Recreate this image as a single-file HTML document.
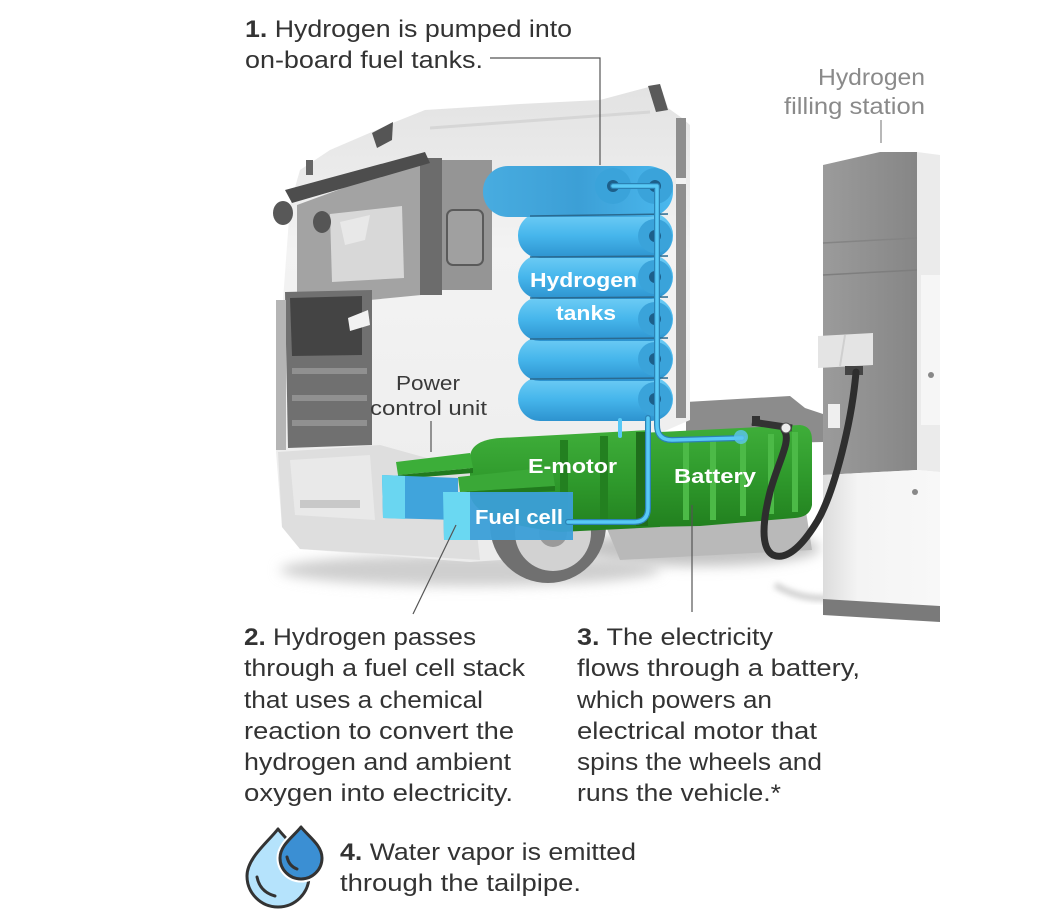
<!DOCTYPE html>
<html><head><meta charset="utf-8"><style>
html,body{margin:0;padding:0;background:#fff;}
svg{display:block;}
.t{font-family:"Liberation Sans",Arial,sans-serif;font-size:24px;fill:#333;}
.w{font-family:"Liberation Sans",Arial,sans-serif;font-size:20px;font-weight:bold;fill:#fff;}
.g{font-family:"Liberation Sans",Arial,sans-serif;font-size:23px;fill:#8a8a8a;}
.p{font-family:"Liberation Sans",Arial,sans-serif;font-size:20px;fill:#3a3a3a;}
</style></head><body>
<svg width="1040" height="920" viewBox="0 0 1040 920" xmlns="http://www.w3.org/2000/svg">
<defs>
<linearGradient id="cab" x1="0" y1="0" x2="0" y2="1">
<stop offset="0" stop-color="#e2e2e2"/><stop offset="0.35" stop-color="#f3f3f3"/><stop offset="1" stop-color="#ececec"/></linearGradient>
<linearGradient id="tank" x1="0" y1="0" x2="0" y2="1">
<stop offset="0" stop-color="#6fcdf5"/><stop offset="0.5" stop-color="#46b6ec"/><stop offset="1" stop-color="#2d93cf"/></linearGradient>
<linearGradient id="tank1" x1="0" y1="0" x2="1" y2="0">
<stop offset="0" stop-color="#48ace0"/><stop offset="0.5" stop-color="#3c9fd6"/><stop offset="1" stop-color="#4ab8ee"/></linearGradient>
<linearGradient id="grn" x1="0" y1="0" x2="0" y2="1">
<stop offset="0" stop-color="#3fae3a"/><stop offset="0.5" stop-color="#2f9a2c"/><stop offset="1" stop-color="#22801f"/></linearGradient>
<linearGradient id="st" x1="0" y1="0" x2="1" y2="0">
<stop offset="0" stop-color="#9b9b9b"/><stop offset="1" stop-color="#868686"/></linearGradient>
<linearGradient id="base" x1="0" y1="0" x2="1" y2="0">
<stop offset="0" stop-color="#dcdcdc"/><stop offset="0.3" stop-color="#f4f4f4"/><stop offset="1" stop-color="#f8f8f8"/></linearGradient>
<filter id="bl" x="-20%" y="-50%" width="140%" height="200%"><feGaussianBlur stdDeviation="6"/></filter>
<filter id="bl2" x="-20%" y="-50%" width="140%" height="200%"><feGaussianBlur stdDeviation="3"/></filter>
</defs>

<ellipse cx="470" cy="570" rx="190" ry="16" fill="#cfcfcf" filter="url(#bl)"/>
<ellipse cx="700" cy="548" rx="120" ry="18" fill="#c4c4c4" filter="url(#bl)"/>
<path d="M775 585 Q800 600 830 598" stroke="#cfcfcf" stroke-width="6" fill="none" filter="url(#bl2)"/>

<path d="M686 402 L790 396 L805 408 L823 414 L823 442 L686 445 Z" fill="#8c8c8c"/>
<path d="M600 512 L805 505 L812 550 L620 560 Z" fill="#b9b9b9"/>

<path d="M283 300 L290 205 L300 170 L330 150 L395 122 L425 110 L520 104 L600 100 L645 88 L660 84 L668 108 L682 118 L690 125 L690 420 L640 442 L610 470 L600 520 L500 560 L470 562 L300 549 L282 527 L276 452 Z" fill="url(#cab)"/>
<path d="M430 128 L650 112" stroke="#d6d6d6" stroke-width="3"/>
<path d="M648 86 L660 84 L668 110 L656 112 Z" fill="#5a5a5a"/>
<rect x="676" y="118" width="10" height="300" fill="#8e8e8e"/>
<rect x="676" y="178" width="10" height="6" fill="#f2f2f2"/>

<path d="M297 205 L420 160 L442 160 L442 293 L370 300 L297 292 Z" fill="#a3a3a3"/>
<path d="M330 214 L402 206 L404 278 L332 282 Z" fill="#d8d8d8"/>
<path d="M340 222 L370 215 L365 240 L345 245 Z" fill="#e8e8e8"/>
<rect x="420" y="158" width="22" height="137" fill="#6c6c6c"/>
<rect x="442" y="160" width="50" height="130" fill="#959595"/>
<rect x="447" y="210" width="36" height="55" rx="6" fill="#a0a0a0" stroke="#5a5a5a" stroke-width="2"/>
<path d="M285 190 L425 152 L430 163 L292 203 Z" fill="#4d4d4d"/>
<ellipse cx="283" cy="213" rx="10" ry="12" fill="#585858"/>
<ellipse cx="322" cy="222" rx="9" ry="11" fill="#555"/>
<path d="M372 133 L393 122 L392 140 L377 148 Z" fill="#555"/>
<rect x="306" y="160" width="7" height="15" fill="#666"/>

<path d="M285 292 L372 290 L372 445 L288 448 Z" fill="#707070"/>
<path d="M290 298 L362 296 L362 355 L292 356 Z" fill="#444"/>
<rect x="292" y="368" width="75" height="6" fill="#909090"/>
<rect x="292" y="395" width="75" height="6" fill="#909090"/>
<rect x="292" y="420" width="75" height="6" fill="#909090"/>
<path d="M348 318 L368 310 L370 325 L350 331 Z" fill="#f2f2f2"/>
<rect x="276" y="300" width="10" height="150" fill="#b5b5b5"/>

<path d="M278 452 L380 445 L470 470 L480 560 L300 549 L282 527 Z" fill="#dedede"/>
<path d="M290 460 L370 455 L375 520 L295 515 Z" fill="#e9e9e9"/>
<rect x="300" y="500" width="60" height="8" fill="#c8c8c8"/>

<circle cx="548" cy="525" r="58" fill="#707070"/>
<circle cx="553" cy="533" r="38" fill="#d2d2d2"/>
<circle cx="553" cy="533" r="14" fill="#9a9a9a"/>
<path d="M485 470 Q545 425 612 462" stroke="#9a9a9a" stroke-width="8" fill="none"/>

<rect x="518" y="377" width="155" height="44" rx="22" fill="url(#tank)"/>
<rect x="518" y="337" width="155" height="44" rx="22" fill="url(#tank)"/>
<rect x="518" y="297" width="155" height="44" rx="22" fill="url(#tank)"/>
<rect x="518" y="255" width="155" height="44" rx="22" fill="url(#tank)"/>
<rect x="518" y="213" width="155" height="45" rx="22" fill="url(#tank)"/>
<rect x="483" y="166" width="190" height="51" rx="25" fill="url(#tank1)"/>
<g stroke="#2a6a90" stroke-width="1.5">
<line x1="530" y1="216" x2="668" y2="214"/>
<line x1="530" y1="257" x2="668" y2="256"/>
<line x1="530" y1="298" x2="668" y2="297"/>
<line x1="530" y1="339" x2="668" y2="338"/>
<line x1="530" y1="379" x2="668" y2="378"/>
</g>
<g fill="#3aa3da">
<circle cx="613" cy="186" r="18"/><circle cx="655" cy="186" r="18"/>
<circle cx="655" cy="236" r="17"/><circle cx="655" cy="277" r="17"/>
<circle cx="655" cy="319" r="17"/><circle cx="655" cy="359" r="17"/><circle cx="655" cy="399" r="17"/>
</g>
<g fill="#1d5f8a">
<circle cx="613" cy="186" r="6"/><circle cx="655" cy="186" r="6"/>
<circle cx="655" cy="236" r="6"/><circle cx="655" cy="277" r="6"/>
<circle cx="655" cy="319" r="6"/><circle cx="655" cy="359" r="6"/><circle cx="655" cy="399" r="6"/>
</g>

<path d="M470 456 Q472 440 500 438 L650 430 L660 527 L560 532 Q470 522 470 492 Z" fill="url(#grn)"/>
<path d="M640 433 L800 425 Q812 426 812 440 L812 505 Q810 517 795 518 L700 526 L648 527 Z" fill="url(#grn)"/>
<rect x="636" y="432" width="12" height="94" fill="#1f6e1c"/>
<g fill="#4cba47">
<rect x="683" y="440" width="6" height="80"/><rect x="710" y="438" width="6" height="82"/>
<rect x="740" y="436" width="6" height="80"/><rect x="768" y="434" width="6" height="80"/>
<rect x="792" y="432" width="6" height="80"/>
</g>
<g fill="#238020">
<rect x="560" y="440" width="8" height="88"/><rect x="600" y="436" width="8" height="92"/>
</g>
<path d="M396 462 L470 453 L473 468 L398 475 Z" fill="#3cae39"/>
<path d="M398 475 L473 468 L473 473 L398 479 Z" fill="#217a1e"/>
<path d="M458 477 L552 467 L555 486 L460 492 Z" fill="#3aa837"/>
<path d="M460 492 L555 486 L555 491 L460 496 Z" fill="#217a1e"/>

<path d="M382 475 L458 478 L458 520 L383 518 Z" fill="#40a4dc"/>
<path d="M382 475 L405 476 L405 519 L383 518 Z" fill="#6ad6f1"/>
<path d="M443 492 L573 492 L573 540 L444 540 Z" fill="#3b9fd8" fill-opacity="0.95"/>
<path d="M443 492 L470 492 L470 540 L444 540 Z" fill="#6ad8f2"/>

<g fill="none" stroke-linecap="round" stroke-linejoin="round">
<path d="M613 186 L657 186 L657 425 Q657 440 672 440 L742 438" stroke="#2b82b5" stroke-width="6"/>
<path d="M648 418 L648 508 Q648 522 634 522 L568 522" stroke="#2b82b5" stroke-width="6"/>
<path d="M613 186 L657 186 L657 425 Q657 440 672 440 L742 438" stroke="#58c9f6" stroke-width="3.5"/>
<path d="M648 418 L648 508 Q648 522 634 522 L568 522" stroke="#58c9f6" stroke-width="3.5"/>
<path d="M620 420 L620 436" stroke="#58c9f6" stroke-width="4"/>
</g>
<circle cx="741" cy="437" r="7" fill="#5cc6ee" opacity="0.8"/>

<path d="M823 165 L880 152 L917 152 L917 470 L823 475 Z" fill="url(#st)"/>
<path d="M823 243 L917 238" stroke="#848484" stroke-width="1.5"/>
<path d="M823 275 L917 270" stroke="#7e7e7e" stroke-width="1.5"/>
<path d="M917 152 L940 155 L940 472 L917 470 Z" fill="#ebebeb"/>
<rect x="921" y="275" width="19" height="150" fill="#f6f6f6"/>
<circle cx="931" cy="375" r="3" fill="#888"/>
<path d="M823 475 L917 470 L940 472 L940 606 L823 599 Z" fill="url(#base)"/>
<circle cx="915" cy="492" r="3" fill="#888"/>
<path d="M823 599 L940 606 L940 622 L823 615 Z" fill="#7a7a7a"/>
<path d="M818 336 L873 333 L873 365 L818 368 Z" fill="#e4e4e4"/>
<path d="M845 335 L840 366" stroke="#cfcfcf" stroke-width="2"/>
<rect x="845" y="366" width="18" height="9" fill="#444"/>
<rect x="828" y="404" width="12" height="24" fill="#efefef"/>
<path d="M856 372 C 852 420, 835 490, 818 520 C 800 550, 785 560, 773 555 C 760 548, 763 520, 770 492 C 778 462, 792 440, 784 430" stroke="#2e2e2e" stroke-width="7" fill="none" stroke-linecap="round"/>
<path d="M752 422 L792 428" stroke="#333" stroke-width="7"/>
<rect x="752" y="416" width="8" height="10" fill="#333"/>
<circle cx="786" cy="428" r="5" fill="#eee" stroke="#555" stroke-width="1"/>

<g stroke="#555" stroke-width="1.2" fill="none">
<path d="M490 58 L600 58 L600 165"/>
<path d="M881 120 L881 143" stroke="#888"/>
<path d="M431 421 L431 452"/>
<path d="M456 525 L413 614"/>
<path d="M692 505 L692 612"/>
</g>

<text class="w" x="530" y="287" textLength="107" lengthAdjust="spacingAndGlyphs">Hydrogen</text>
<text class="w" x="556" y="320" textLength="60" lengthAdjust="spacingAndGlyphs">tanks</text>
<text class="w" x="528" y="473" textLength="89" lengthAdjust="spacingAndGlyphs">E-motor</text>
<text class="w" x="674" y="483" textLength="82" lengthAdjust="spacingAndGlyphs">Battery</text>
<text class="w" x="475" y="524" textLength="88" lengthAdjust="spacingAndGlyphs">Fuel cell</text>
<text class="p" x="396" y="390" textLength="64" lengthAdjust="spacingAndGlyphs">Power</text>
<text class="p" x="370" y="415" textLength="117" lengthAdjust="spacingAndGlyphs">control unit</text>
<text class="g" x="818" y="85" textLength="107" lengthAdjust="spacingAndGlyphs">Hydrogen</text>
<text class="g" x="784" y="114" textLength="141" lengthAdjust="spacingAndGlyphs">filling station</text>

<text class="t" x="245" y="37" textLength="327" lengthAdjust="spacingAndGlyphs"><tspan font-weight="bold">1.</tspan> Hydrogen is pumped into</text>
<text class="t" x="245" y="68" textLength="238" lengthAdjust="spacingAndGlyphs">on-board fuel tanks.</text>

<text class="t" x="244" y="645" textLength="232" lengthAdjust="spacingAndGlyphs"><tspan font-weight="bold">2.</tspan> Hydrogen passes</text>
<text class="t" x="244" y="676" textLength="281" lengthAdjust="spacingAndGlyphs">through a fuel cell stack</text>
<text class="t" x="244" y="708" textLength="239" lengthAdjust="spacingAndGlyphs">that uses a chemical</text>
<text class="t" x="244" y="739" textLength="270" lengthAdjust="spacingAndGlyphs">reaction to convert the</text>
<text class="t" x="244" y="770" textLength="267" lengthAdjust="spacingAndGlyphs">hydrogen and ambient</text>
<text class="t" x="244" y="801" textLength="269" lengthAdjust="spacingAndGlyphs">oxygen into electricity.</text>

<text class="t" x="577" y="645" textLength="196" lengthAdjust="spacingAndGlyphs"><tspan font-weight="bold">3.</tspan> The electricity</text>
<text class="t" x="577" y="676" textLength="283" lengthAdjust="spacingAndGlyphs">flows through a battery,</text>
<text class="t" x="577" y="708" textLength="195" lengthAdjust="spacingAndGlyphs">which powers an</text>
<text class="t" x="577" y="739" textLength="240" lengthAdjust="spacingAndGlyphs">electrical motor that</text>
<text class="t" x="577" y="770" textLength="245" lengthAdjust="spacingAndGlyphs">spins the wheels and</text>
<text class="t" x="577" y="801" textLength="204" lengthAdjust="spacingAndGlyphs">runs the vehicle.*</text>

<text class="t" x="340" y="860" textLength="296" lengthAdjust="spacingAndGlyphs"><tspan font-weight="bold">4.</tspan> Water vapor is emitted</text>
<text class="t" x="340" y="891" textLength="241" lengthAdjust="spacingAndGlyphs">through the tailpipe.</text>

<path d="M278 829 C 268 842, 247 858, 247 876 A 31 31 0 0 0 309 876 C 309 858, 288 842, 278 829 Z" fill="#b5e3fc" stroke="#333" stroke-width="3" stroke-linejoin="round"/>
<path d="M257 877 Q 260 892 275 896" stroke="#333" stroke-width="3" fill="none" stroke-linecap="round"/>
<path d="M301 827 C 294 836, 280 845, 280 858 A 21 21 0 0 0 322 858 C 322 845, 308 836, 301 827 Z" fill="#3b8fd3" stroke="#fff" stroke-width="7" stroke-linejoin="round"/>
<path d="M301 827 C 294 836, 280 845, 280 858 A 21 21 0 0 0 322 858 C 322 845, 308 836, 301 827 Z" fill="#3b8fd3" stroke="#333" stroke-width="3" stroke-linejoin="round"/>
<path d="M287 857 Q 289 866 297 869" stroke="#333" stroke-width="3" fill="none" stroke-linecap="round"/>
</svg>
</body></html>
